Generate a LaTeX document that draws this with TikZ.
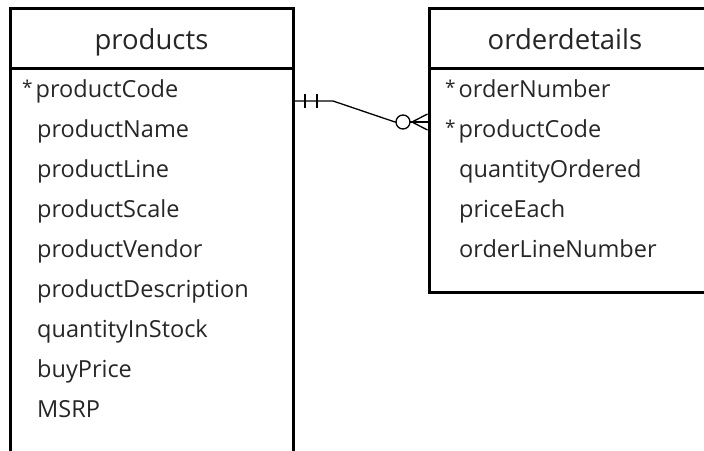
\documentclass[tikz,border=0pt]{standalone}
\usepackage{fontspec}
\setmainfont{Open Sans}
\newcommand{\keymark}{\raisebox{3pt}{\fontsize{19}{19}\selectfont*}\hspace{3pt}}
\begin{document}
\begin{tikzpicture}[x=1pt,y=-1pt,
  boxline/.style={line width=3pt,draw=black},
  title/.style={anchor=mid,font=\fontsize{27.5}{30}\selectfont,text=black!85,inner sep=0pt},
  field/.style={anchor=mid west,font=\fontsize{23.5}{26}\selectfont,text=black!85,inner sep=0pt},
  rel/.style={line width=1.3pt,draw=black}]
\useasboundingbox (0,0) rectangle (704,450);
% products table
\draw[boxline] (10,470) -- (10,8) -- (293,8) -- (293,470);
\draw[boxline] (10,68) -- (293,68);
\node[title] (ptitle) at (151.5,47) {products};
\node[field] (p1) at (22,95) {\keymark productCode};
\node[field] (p2) at (37,135) {productName};
\node[field] (p3) at (37,175) {productLine};
\node[field] (p4) at (37,215) {productScale};
\node[field] (p5) at (37,255) {productVendor};
\node[field] (p6) at (37,295) {productDescription};
\node[field] (p7) at (37,335) {quantityInStock};
\node[field] (p8) at (37,375) {buyPrice};
\node[field] (p9) at (37,415) {MSRP};
% orderdetails table
\draw[boxline] (720,292) -- (429,292) -- (429,8) -- (720,8);
\draw[boxline] (429,68) -- (720,68);
\node[title] (otitle) at (565,47) {orderdetails};
\node[field] (o1) at (445,95) {\keymark orderNumber};
\node[field] (o2) at (445,135) {\keymark productCode};
\node[field] (o3) at (459,175) {quantityOrdered};
\node[field] (o4) at (459,215) {priceEach};
\node[field] (o5) at (459,255) {orderLineNumber};
% relationship
\coordinate (ra) at (294.5,101);
\coordinate (rb) at (333,101);
\coordinate (rc) at (395,122);
\coordinate (rd) at (427.5,122);
\coordinate (apex) at (412,122);
\draw[rel] (ra) -- (rb) -- (rc) -- (rd);
\draw[rel] (305,94) -- (305,108);
\draw[rel] (317,94) -- (317,108);
\draw[rel,fill=white] (403,122) circle (7);
\draw[rel] (apex) -- (427.5,114);
\draw[rel] (apex) -- (427.5,130);
\draw[rel] (410,122) -- (rd);
\end{tikzpicture}
\end{document}
